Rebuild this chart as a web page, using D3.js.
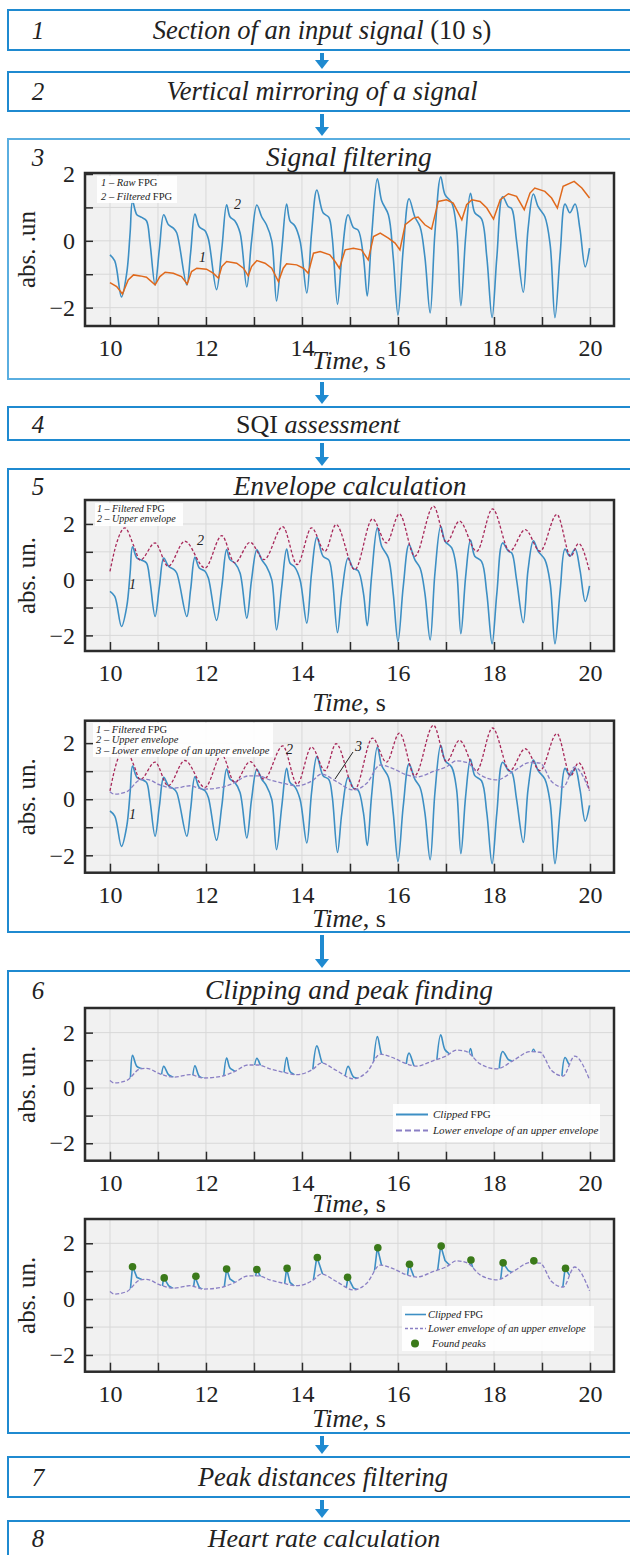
<!DOCTYPE html>
<html>
<head>
<meta charset="utf-8">
<script src="https://cdn.jsdelivr.net/npm/d3@7"></script>
<style>
  body { margin: 0; background: #fff; }
  svg { display: block; }
  text { font-family: "Liberation Serif", "Times New Roman", serif; fill: #222; }
</style>
</head>
<body>
<script>
// filtered FPG (time s, value abs. un.)
const tSig = [10.0,10.1,10.24,10.35,10.42,10.47,10.56,10.66,10.76,10.83,
  10.94,11.03,11.12,11.22,11.32,11.39,11.6,11.68,11.77,11.86,
  11.98,12.05,12.22,12.33,12.43,12.5,12.6,12.71,12.85,12.95,
  13.06,13.16,13.26,13.37,13.47,13.58,13.68,13.75,13.85,13.96,
  14.1,14.2,14.31,14.44,14.56,14.63,14.74,14.83,14.96,15.07,
  15.17,15.28,15.36,15.45,15.57,15.66,15.8,15.9,16.0,16.11,
  16.23,16.35,16.46,16.56,16.67,16.77,16.89,16.98,17.12,17.22,
  17.31,17.41,17.51,17.6,17.74,17.85,17.96,18.06,18.18,18.3,
  18.37,18.47,18.61,18.71,18.82,18.92,19.06,19.17,19.27,19.38,
  19.48,19.58,19.69,19.79,19.9,19.99];
const vSig = [-0.42,-0.6,-1.68,-0.96,0.24,1.18,0.78,0.7,0.6,0,
  -1.32,-0.24,0.78,0.48,0.38,0.24,-1.32,-0.36,0.8,0.42,
  0.3,0.06,-1.46,-0.24,1.08,0.72,0.6,0.24,-1.38,0,
  1.07,0.72,0.48,0,-1.8,-0.24,1.1,0.6,0.45,0,
  -1.56,0.24,1.52,0.84,0.7,0.1,-1.9,-0.5,0.78,0.4,
  0.32,-0.48,-1.65,0.12,1.86,1.2,0.78,-0.48,-2.22,-0.24,
  1.26,0.72,0.42,-0.48,-2.16,0.24,1.92,1.38,1.14,0.36,
  -1.94,0.12,1.42,0.84,0.66,-0.48,-2.3,-0.48,1.32,1.02,
  0.96,0,-1.54,0.36,1.4,1.02,0.72,-0.12,-2.3,-0.36,
  1.1,0.84,1.1,0.36,-0.78,-0.22];

// raw FPG
const tRaw = [10.0,10.14,10.26,10.38,10.49,10.63,10.76,10.94,11.04,11.15,
  11.32,11.49,11.61,11.7,11.81,12.01,12.15,12.26,12.33,12.43,
  12.64,12.78,12.88,12.95,13.06,13.23,13.37,13.51,13.61,13.68,
  13.89,14.03,14.13,14.24,14.38,14.58,14.69,14.78,14.9,15.07,
  15.24,15.38,15.49,15.63,15.8,15.94,16.04,16.15,16.32,16.42,
  16.56,16.7,16.84,17.01,17.15,17.33,17.43,17.54,17.71,17.85,
  17.99,18.13,18.3,18.47,18.63,18.75,18.85,19.06,19.2,19.32,
  19.44,19.67,19.83,19.99];
const vRaw = [-1.25,-1.37,-1.59,-1.17,-1.02,-1.05,-1.09,-1.32,-1.07,-0.94,
  -0.97,-1.07,-1.29,-0.92,-0.82,-0.85,-0.97,-1.12,-0.77,-0.62,
  -0.67,-0.82,-1.05,-0.77,-0.59,-0.67,-0.82,-1.22,-0.82,-0.69,
  -0.72,-0.82,-0.97,-0.37,-0.32,-0.42,-0.62,-0.82,-0.27,-0.22,
  -0.27,-0.57,0.13,0.23,0.08,-0.07,-0.27,0.48,0.68,0.71,
  0.48,0.35,1.18,1.23,1.13,0.63,1.08,1.23,1.18,0.98,
  0.65,1.23,1.41,1.33,0.93,1.43,1.58,1.48,1.28,0.98,
  1.63,1.78,1.58,1.28];

// upper envelope
const tUp = [10.0,10.14,10.31,10.5,10.63,10.94,11.21,11.56,11.98,12.33,
  12.6,12.92,13.21,13.6,13.9,14.2,14.48,14.71,15.1,15.47,
  15.76,16.03,16.35,16.74,17.01,17.28,17.64,17.97,18.33,18.65,
  18.96,19.31,19.6,19.76,19.99];
const vUp = [0.3,1.32,1.86,1.2,0.7,1.32,0.48,1.38,0.42,1.58,
  0.6,1.34,0.72,1.9,0.54,1.86,1.02,1.98,0.36,2.18,
  1.32,2.36,0.84,2.64,1.34,2.1,1.02,2.54,1.02,1.8,
  1.02,2.34,0.84,1.3,0.3];

// lower envelope of an upper envelope
const tLow = [10.0,10.09,10.35,10.63,10.76,11.04,11.32,11.67,11.94,12.29,
  12.57,12.88,13.09,13.33,13.61,13.89,14.24,14.4,14.72,15.07,
  15.35,15.63,15.87,16.18,16.39,16.74,17.01,17.22,17.43,17.71,
  18.06,18.4,18.75,18.96,19.2,19.44,19.68,19.99];
const vLow = [0.27,0.18,0.27,0.69,0.71,0.51,0.39,0.48,0.36,0.41,
  0.57,0.83,0.83,0.69,0.57,0.48,0.69,0.9,0.63,0.33,
  0.57,1.22,1.11,0.87,0.79,0.99,1.16,1.37,1.31,0.87,
  0.69,0.99,1.31,1.29,0.63,0.43,1.15,0.3];

// found peaks
const tPeaks = [10.47,11.13,11.79,12.43,13.06,13.69,14.32,14.95,15.58,16.24,16.9,17.52,18.19,18.83,19.49];
const vPeaks = [1.16,0.76,0.82,1.08,1.06,1.1,1.49,0.78,1.84,1.25,1.9,1.4,1.3,1.37,1.1];

const xTicks = [10,11,12,13,14,15,16,17,18,19,20];
const yTicks = [-2,-1,0,1,2];

const sig = tSig.map((t, i) => [t, vSig[i]]);
const raw = tRaw.map((t, i) => [t, vRaw[i]]);
const up = tUp.map((t, i) => [t, vUp[i]]);
const low = tLow.map((t, i) => [t, vLow[i]]);
const peaks = tPeaks.map((t, i) => [t, vPeaks[i]]);

const W = 630, H = 1555;
const BLUE = '#1f8ad0';
const svg = d3.select('body').append('svg').attr('width', W).attr('height', H);

// flow boxes
const boxes = [
  {n: '1', top: 10, bottom: 50, ty: 39, tx: 322, fs: 26.5, parts: [['Section of an input signal', true], [' (10 s)', false]]},
  {n: '2', top: 72, bottom: 111, ty: 100, tx: 322, fs: 26.5, parts: [['Vertical mirroring of a signal', true]]},
  {n: '3', top: 139, bottom: 379, ty: 166, tx: 349, fs: 27.5, parts: [['Signal filtering', true]], light: true},
  {n: '4', top: 407, bottom: 440, ty: 433, tx: 318, fs: 26, parts: [['SQI ', false], ['assessment', true]]},
  {n: '5', top: 469, bottom: 932, ty: 495, tx: 350, fs: 27.5, parts: [['Envelope calculation', true]]},
  {n: '6', top: 971, bottom: 1433, ty: 999, tx: 349, fs: 27.5, parts: [['Clipping and peak finding', true]]},
  {n: '7', top: 1457, bottom: 1497, ty: 1486, tx: 323, fs: 26.5, parts: [['Peak distances filtering', true]]},
  {n: '8', top: 1521, bottom: 1600, ty: 1547, tx: 324, fs: 26, parts: [['Heart rate calculation', true]]}
];

boxes.forEach((b, i) => {
  svg.append('rect')
    .attr('x', 8).attr('y', b.top)
    .attr('width', 640).attr('height', b.bottom - b.top)
    .attr('fill', 'none')
    .attr('stroke', b.light ? '#5aaee0' : BLUE)
    .attr('stroke-width', 2);
  svg.append('text')
    .attr('x', 38).attr('y', b.ty)
    .attr('text-anchor', 'middle')
    .style('font-style', 'italic').style('font-size', '25px')
    .text(b.n);
  const t = svg.append('text')
    .attr('x', b.tx).attr('y', b.ty)
    .attr('text-anchor', 'middle')
    .style('font-size', b.fs + 'px');
  b.parts.forEach(p => t.append('tspan').style('font-style', p[1] ? 'italic' : 'normal').text(p[0]));

  if (i < boxes.length - 1) {
    const y0 = b.bottom + 3, y1 = boxes[i + 1].top - 3;
    svg.append('rect').attr('x', 320).attr('y', y0).attr('width', 4).attr('height', y1 - y0 - 7).attr('fill', BLUE);
    svg.append('path')
      .attr('d', `M315,${y1 - 9}L329,${y1 - 9}L322,${y1}Z`)
      .attr('fill', BLUE);
  }
});

function chart(cfg) {
  const x = d3.scaleLinear().domain([9.48, 20.5]).range([85, 614]);
  const y = d3.scaleLinear().domain(cfg.yDomain).range([cfg.bottom, cfg.top]);
  const g = svg.append('g');
  const id = 'clip' + cfg.name;

  g.append('clipPath').attr('id', id)
    .append('rect').attr('x', 85).attr('y', cfg.top).attr('width', 529).attr('height', cfg.bottom - cfg.top);

  g.append('rect')
    .attr('x', 85).attr('y', cfg.top).attr('width', 529).attr('height', cfg.bottom - cfg.top)
    .attr('fill', '#f1f1f1');

  g.selectAll('.vgrid').data(xTicks).join('line')
    .attr('x1', d => x(d)).attr('x2', d => x(d))
    .attr('y1', cfg.top).attr('y2', cfg.bottom)
    .attr('stroke', '#d8d8d8').attr('stroke-width', 1);
  g.selectAll('.hgrid').data(yTicks).join('line')
    .attr('x1', 85).attr('x2', 614)
    .attr('y1', d => y(d)).attr('y2', d => y(d))
    .attr('stroke', '#d8d8d8').attr('stroke-width', 1);

  const xAxis = g.append('g')
    .attr('transform', `translate(0,${cfg.bottom})`)
    .call(d3.axisBottom(x).tickValues(xTicks).tickSize(-9).tickPadding(13)
      .tickFormat(d => d % 2 === 0 ? d : ''));
  const yAxis = g.append('g')
    .attr('transform', 'translate(85,0)')
    .call(d3.axisLeft(y).tickValues(yTicks).tickSize(-8).tickPadding(10)
      .tickFormat(d => d % 2 === 0 ? d3.format('')(d) : ''));
  [xAxis, yAxis].forEach(a => {
    a.select('.domain').remove();
    a.selectAll('line').attr('stroke', '#2b2b2b').attr('stroke-width', 1.5);
    a.selectAll('text').style('font-size', '24px')
      .style('font-family', '"Liberation Serif", "Times New Roman", serif').attr('fill', '#222');
  });

  svg.append('text')
    .attr('transform', `translate(35,${(cfg.top + cfg.bottom) / 2}) rotate(-90)`)
    .attr('text-anchor', 'middle')
    .style('font-size', '25px')
    .text(cfg.ylabel);

  const xl = svg.append('text')
    .attr('x', 349).attr('y', cfg.xlabelY)
    .attr('text-anchor', 'middle')
    .style('font-size', '26px');
  xl.append('tspan').style('font-style', 'italic').text('Time');
  xl.append('tspan').text(', s');

  const plot = g.append('g').attr('clip-path', `url(#${id})`);
  return {g, plot, x, y, cfg};
}

function border(c) {
  c.g.append('rect')
    .attr('x', 85).attr('y', c.cfg.top).attr('width', 529).attr('height', c.cfg.bottom - c.cfg.top)
    .attr('fill', 'none').attr('stroke', '#2b2b2b').attr('stroke-width', 2.5);
}

function lineGen(c, curve) {
  return d3.line().x(d => c.x(d[0])).y(d => c.y(d[1])).curve(curve);
}

function legend(c, box, rows) {
  c.g.append('rect')
    .attr('x', box[0]).attr('y', box[1]).attr('width', box[2]).attr('height', box[3])
    .attr('fill', '#fff').attr('opacity', 0.9);
  rows.forEach(r => {
    if (r.line) {
      c.g.append('line')
        .attr('x1', r.line[0]).attr('x2', r.line[1]).attr('y1', r.y - 3.5).attr('y2', r.y - 3.5)
        .attr('stroke', r.color).attr('stroke-width', r.width || 1.6)
        .attr('stroke-dasharray', r.dash || null);
    }
    if (r.dot) {
      c.g.append('circle').attr('cx', r.dot).attr('cy', r.y - 3.5).attr('r', 4).attr('fill', '#3b7a1a');
    }
    const t = c.g.append('text').attr('x', r.x).attr('y', r.y).style('font-size', r.size || '10px');
    r.parts.forEach(p => t.append('tspan').style('font-style', p[1] ? 'italic' : 'normal').text(p[0]));
  });
}

function label(txt, x, y) {
  svg.append('text').attr('x', x).attr('y', y)
    .style('font-style', 'italic').style('font-size', '14px').text(txt);
}

// ---- panel 3: signal filtering
const c3 = chart({name: 'c3', top: 173, bottom: 326, yDomain: [-2.55, 2.03], ylabel: 'abs. .un', xlabelY: 369});
c3.plot.append('path').datum(sig).attr('d', lineGen(c3, d3.curveCatmullRom))
  .attr('fill', 'none').attr('stroke', '#3d8fc4').attr('stroke-width', 1.6);
c3.plot.append('path').datum(raw).attr('d', lineGen(c3, d3.curveLinear))
  .attr('fill', 'none').attr('stroke', '#e0691c').attr('stroke-width', 1.5);
legend(c3, [97, 176, 80, 27], [
  {x: 101, y: 186, size: '10.5px', parts: [['1 – Raw ', true], ['FPG', false]]},
  {x: 101, y: 200, size: '10.5px', parts: [['2 – Filtered ', true], ['FPG', false]]}
]);
border(c3);
label('2', 234, 209);
label('1', 199, 262);

// ---- panel 5a: upper envelope
const c5a = chart({name: 'c5a', top: 500, bottom: 651, yDomain: [-2.56, 2.86], ylabel: 'abs. un.', xlabelY: 711});
c5a.plot.append('path').datum(sig).attr('d', lineGen(c5a, d3.curveCatmullRom))
  .attr('fill', 'none').attr('stroke', '#3d8fc4').attr('stroke-width', 1.6);
c5a.plot.append('path').datum(up).attr('d', lineGen(c5a, d3.curveMonotoneX))
  .attr('fill', 'none').attr('stroke', '#a8285a').attr('stroke-width', 1.3).attr('stroke-dasharray', '3,2');
legend(c5a, [95, 503, 88, 23], [
  {x: 97, y: 512, size: '10px', parts: [['1 – Filtered ', true], ['FPG', false]]},
  {x: 97, y: 522, size: '10px', parts: [['2 – Upper envelope', true]]}
]);
border(c5a);
label('2', 197, 545);
label('1', 129, 589);

// ---- panel 5b: lower envelope of an upper envelope
const c5b = chart({name: 'c5b', top: 720.7, bottom: 872.7, yDomain: [-2.62, 2.8], ylabel: 'abs. un.', xlabelY: 927});
c5b.plot.append('path').datum(sig).attr('d', lineGen(c5b, d3.curveCatmullRom))
  .attr('fill', 'none').attr('stroke', '#3d8fc4').attr('stroke-width', 1.6);
c5b.plot.append('path').datum(up).attr('d', lineGen(c5b, d3.curveMonotoneX))
  .attr('fill', 'none').attr('stroke', '#a8285a').attr('stroke-width', 1.3).attr('stroke-dasharray', '3,2');
c5b.plot.append('path').datum(low).attr('d', lineGen(c5b, d3.curveMonotoneX))
  .attr('fill', 'none').attr('stroke', '#8a7fc4').attr('stroke-width', 1.3).attr('stroke-dasharray', '4,2');
legend(c5b, [93, 723, 180, 34], [
  {x: 96, y: 733, size: '10.5px', parts: [['1 – Filtered ', true], ['FPG', false]]},
  {x: 96, y: 743, size: '10.5px', parts: [['2 – Upper envelope', true]]},
  {x: 96, y: 754, size: '10.5px', parts: [['3 – Lower envelope of an upper envelope', true]]}
]);
border(c5b);
label('2', 286, 754);
label('3', 355, 751);
svg.append('line').attr('x1', 353).attr('y1', 752).attr('x2', 335).attr('y2', 779)
  .attr('stroke', '#222').attr('stroke-width', 1);
label('1', 129, 819);

// ---- panel 6: clipping and peak finding
function clippedPanel(c, curve) {
  const cid = 'env' + c.cfg.name;
  c.g.append('clipPath').attr('id', cid)
    .append('path')
    .datum(low)
    .attr('d', d3.area().x(d => c.x(d[0])).y0(c.cfg.top).y1(d => c.y(d[1])).curve(d3.curveMonotoneX));
  c.plot.append('g').attr('clip-path', `url(#${cid})`)
    .append('path').datum(sig).attr('d', lineGen(c, curve))
    .attr('fill', 'none').attr('stroke', '#3d8fc4').attr('stroke-width', 1.6);
  c.plot.append('path').datum(low).attr('d', lineGen(c, d3.curveMonotoneX))
    .attr('fill', 'none').attr('stroke', '#8a7fc4').attr('stroke-width', 1.3).attr('stroke-dasharray', '4,2');
}

const c6a = chart({name: 'c6a', top: 1008, bottom: 1160.7, yDomain: [-2.63, 2.89], ylabel: 'abs. un.', xlabelY: 1212});
clippedPanel(c6a, d3.curveCatmullRom);
legend(c6a, [393, 1104, 207, 38], [
  {x: 433, y: 1118, size: '11px', line: [396, 428], color: '#3d8fc4', width: 2, parts: [['Clipped ', true], ['FPG', false]]},
  {x: 433, y: 1134, size: '11px', line: [396, 428], color: '#8a7fc4', width: 2, dash: '6,3', parts: [['Lower envelope of an upper envelope', true]]}
]);
border(c6a);

const c6b = chart({name: 'c6b', top: 1219, bottom: 1371.7, yDomain: [-2.6, 2.87], ylabel: 'abs. un.', xlabelY: 1427});
clippedPanel(c6b, d3.curveLinear);
c6b.plot.selectAll('.peak').data(peaks).join('circle')
  .attr('cx', d => c6b.x(d[0])).attr('cy', d => c6b.y(d[1]))
  .attr('r', 3.8).attr('fill', '#3b7a1a');
legend(c6b, [402, 1306, 192, 45], [
  {x: 428, y: 1318, size: '10.5px', line: [405, 426], color: '#3d8fc4', width: 1.6, parts: [['Clipped ', true], ['FPG', false]]},
  {x: 428, y: 1332, size: '10.5px', line: [405, 426], color: '#8a7fc4', width: 1.6, dash: '3,2', parts: [['Lower envelope of an upper envelope', true]]},
  {x: 432, y: 1347, size: '10.5px', dot: 415, parts: [['Found peaks', true]]}
]);
border(c6b);
</script>
</body>
</html>
